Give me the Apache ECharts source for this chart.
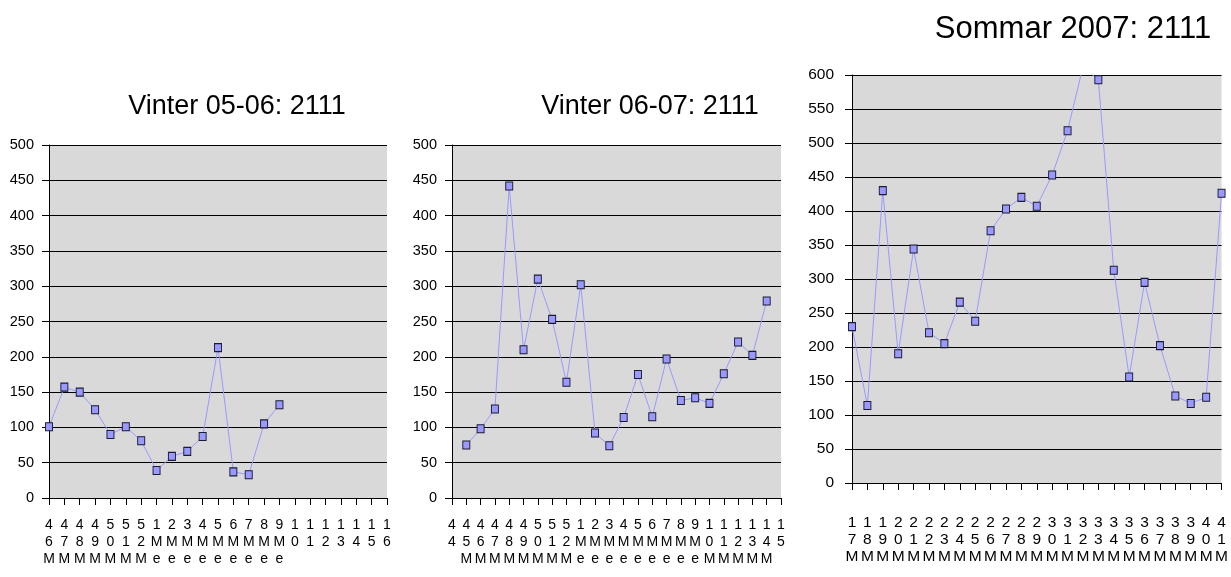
<!DOCTYPE html>
<html>
<head>
<meta charset="utf-8">
<script src="https://cdn.jsdelivr.net/npm/echarts@6/dist/echarts.min.js"></script>
<style>
html,body{margin:0;padding:0;background:#fff;}
#chart{width:1231px;height:577px;}
</style>
</head>
<body>
<div id="chart"></div>
<script>
// ---- Data ----
const titles = ['Vinter 05-06: 2111', 'Vinter 06-07: 2111', 'Sommar 2007: 2111'];

const cats1 = ['46M','47M','48M','49M','50M','51M','52M','1Me','2Me','3Me','4Me','5Me','6Me','7Me','8Me','9Me','10','11','12','13','14','15','16'];
const vals1 = [101,157,150,125,90,101,81,39,59,66,87,213,37,33,105,132,null,null,null,null,null,null,null];

const cats2 = ['44','45M','46M','47M','48M','49M','50M','51M','52M','1Me','2Me','3Me','4Me','5Me','6Me','7Me','8Me','9Me','10M','11M','12M','13M','14M','15'];
const vals2 = [null,75,98,126,442,210,310,253,164,302,92,74,114,175,115,197,138,142,134,176,221,202,279,null];

const cats3 = ['17M','18M','19M','20M','21M','22M','23M','24M','25M','26M','27M','28M','29M','30M','31M','32M','33M','34M','35M','36M','37M','38M','39M','40M','41M'];
const vals3 = [230,114,430,190,344,221,205,266,238,371,403,420,407,453,518,612,593,313,156,295,202,128,117,126,426];

const yMax = [500, 500, 600];

// ---- Layout ----
const grids = [
  {left: 49, top: 145, width: 338, height: 353},
  {left: 452, top: 145, width: 329, height: 353},
  {left: 852, top: 75, width: 373, height: 408}
];
const titlePos = [
  {left: 237, top: 93, size: 27},
  {left: 650, top: 93, size: 27},
  {left: 1073, top: 14, size: 31}
];
const xLabelMargin = [19, 19, 31];
const yLabelMargin = [15, 15, 18];
const xFont = [14, 14, 15.5];
const yFont = [14.5, 14.5, 15.5];

const FONT = "'Liberation Sans', Arial, sans-serif";
const cats = [cats1, cats2, cats3];
const vals = [vals1, vals2, vals3];

const option = {
  backgroundColor: '#ffffff',
  animation: false,
  title: titles.map((t, i) => ({
    text: t,
    left: titlePos[i].left,
    top: titlePos[i].top,
    textAlign: 'center',
    padding: 0,
    textStyle: {fontFamily: FONT, fontSize: titlePos[i].size, fontWeight: 'normal', color: '#000'}
  })),
  grid: grids.map(g => Object.assign({
    show: true, backgroundColor: '#d9d9d9', borderWidth: 0, containLabel: false
  }, g)),
  xAxis: cats.map((c, i) => ({
    type: 'category',
    gridIndex: i,
    data: c,
    boundaryGap: false,
    axisLine: {show: true, onZero: false, lineStyle: {color: '#000', width: 1}},
    axisTick: {show: true, inside: false, length: 7, interval: 0, lineStyle: {color: '#000'}},
    axisLabel: {
      interval: 0,
      margin: xLabelMargin[i],
      fontFamily: FONT,
      fontSize: xFont[i],
      lineHeight: 17,
      color: '#000',
      align: 'center',
      formatter: v => v.split('').join('\n')
    },
    splitLine: {show: false}
  })),
  yAxis: vals.map((v, i) => ({
    type: 'value',
    gridIndex: i,
    min: 0,
    max: yMax[i],
    interval: 50,
    axisLine: {show: true, lineStyle: {color: '#000', width: 1}},
    axisTick: {show: true, inside: false, length: 7, lineStyle: {color: '#000'}},
    axisLabel: {margin: yLabelMargin[i], fontFamily: FONT, fontSize: yFont[i], color: '#000'},
    splitLine: {show: true, lineStyle: {color: '#000', width: 1}}
  })),
  series: vals.map((v, i) => ({
    type: 'line',
    xAxisIndex: i,
    yAxisIndex: i,
    data: v,
    clip: true,
    connectNulls: false,
    symbol: 'rect',
    symbolSize: [7, 8],
    showAllSymbol: true,
    lineStyle: {color: '#9999ff', width: 1},
    itemStyle: {color: '#9999ff', borderColor: '#1a1a33', borderWidth: 1},
    emphasis: {disabled: true}
  }))
};

const chart = echarts.init(document.getElementById('chart'), null, {renderer: 'canvas'});
chart.setOption(option);
</script>
</body>
</html>
